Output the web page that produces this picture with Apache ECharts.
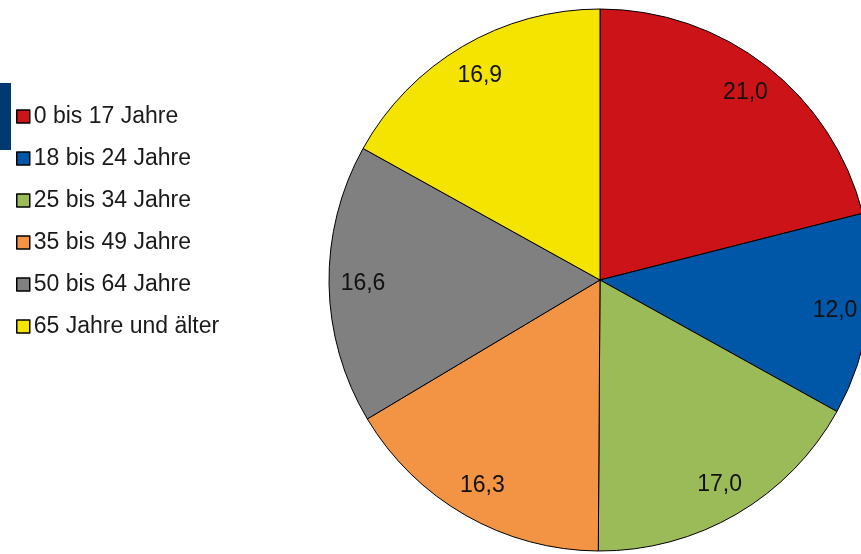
<!DOCTYPE html>
<html>
<head>
<meta charset="utf-8">
<script src="https://cdn.jsdelivr.net/npm/echarts@6/dist/echarts.min.js"></script>
<style>
html,body{margin:0;padding:0;background:#fff;}
#c{width:861px;height:554px;}
</style>
</head>
<body>
<div id="c"></div>
<script>
var categories = ['0 bis 17 Jahre', '18 bis 24 Jahre', '25 bis 34 Jahre', '35 bis 49 Jahre', '50 bis 64 Jahre', '65 Jahre und älter'];
var values = [21.0, 12.0, 17.0, 16.3, 16.6, 16.9];
var colors = ['#CC1418', '#0057A8', '#9BBB59', '#F39445', '#808080', '#F5E400'];

var data = categories.map(function (c, i) {
  return { name: c, value: values[i], itemStyle: { color: colors[i] } };
});
var labelData = categories.map(function (c, i) {
  return { name: c, value: values[i] };
});

var chart = echarts.init(document.getElementById('c'), null, { renderer: 'canvas' });
chart.setOption({
  animation: false,
  backgroundColor: '#ffffff',
  color: colors,
  graphic: [{
    type: 'rect',
    shape: { x: 0, y: 83, width: 11, height: 67 },
    style: { fill: '#003A70' }
  }],
  legend: {
    orient: 'vertical',
    left: 16,
    top: 105,
    padding: 0,
    icon: 'rect',
    itemWidth: 13,
    itemHeight: 13,
    itemGap: 19,
    itemStyle: { borderColor: '#000', borderWidth: 1.5 },
    textStyle: {
      fontFamily: 'Liberation Sans, Arial, sans-serif',
      fontSize: 23,
      lineHeight: 23,
      color: '#1a1a1a',
      padding: [0, 0, 0, -1]
    },
    data: categories
  },
  series: [{
    type: 'pie',
    center: [600, 280],
    radius: [0, 271],
    startAngle: 90,
    clockwise: true,
    silent: true,
    label: { show: false },
    labelLine: { show: false },
    itemStyle: { borderColor: '#000', borderWidth: 1 },
    data: data
  }, {
    type: 'pie',
    center: [600, 280],
    radius: [197, 271],
    startAngle: 90,
    clockwise: true,
    silent: true,
    legendHoverLink: false,
    itemStyle: { color: 'rgba(0,0,0,0)', borderWidth: 0 },
    label: {
      show: true,
      position: 'inside',
      fontFamily: 'Liberation Sans, Arial, sans-serif',
      fontSize: 23,
      color: '#111',
      formatter: function (p) { return p.value.toFixed(1).replace('.', ','); }
    },
    labelLine: { show: false },
    data: labelData
  }]
});
</script>
</body>
</html>
